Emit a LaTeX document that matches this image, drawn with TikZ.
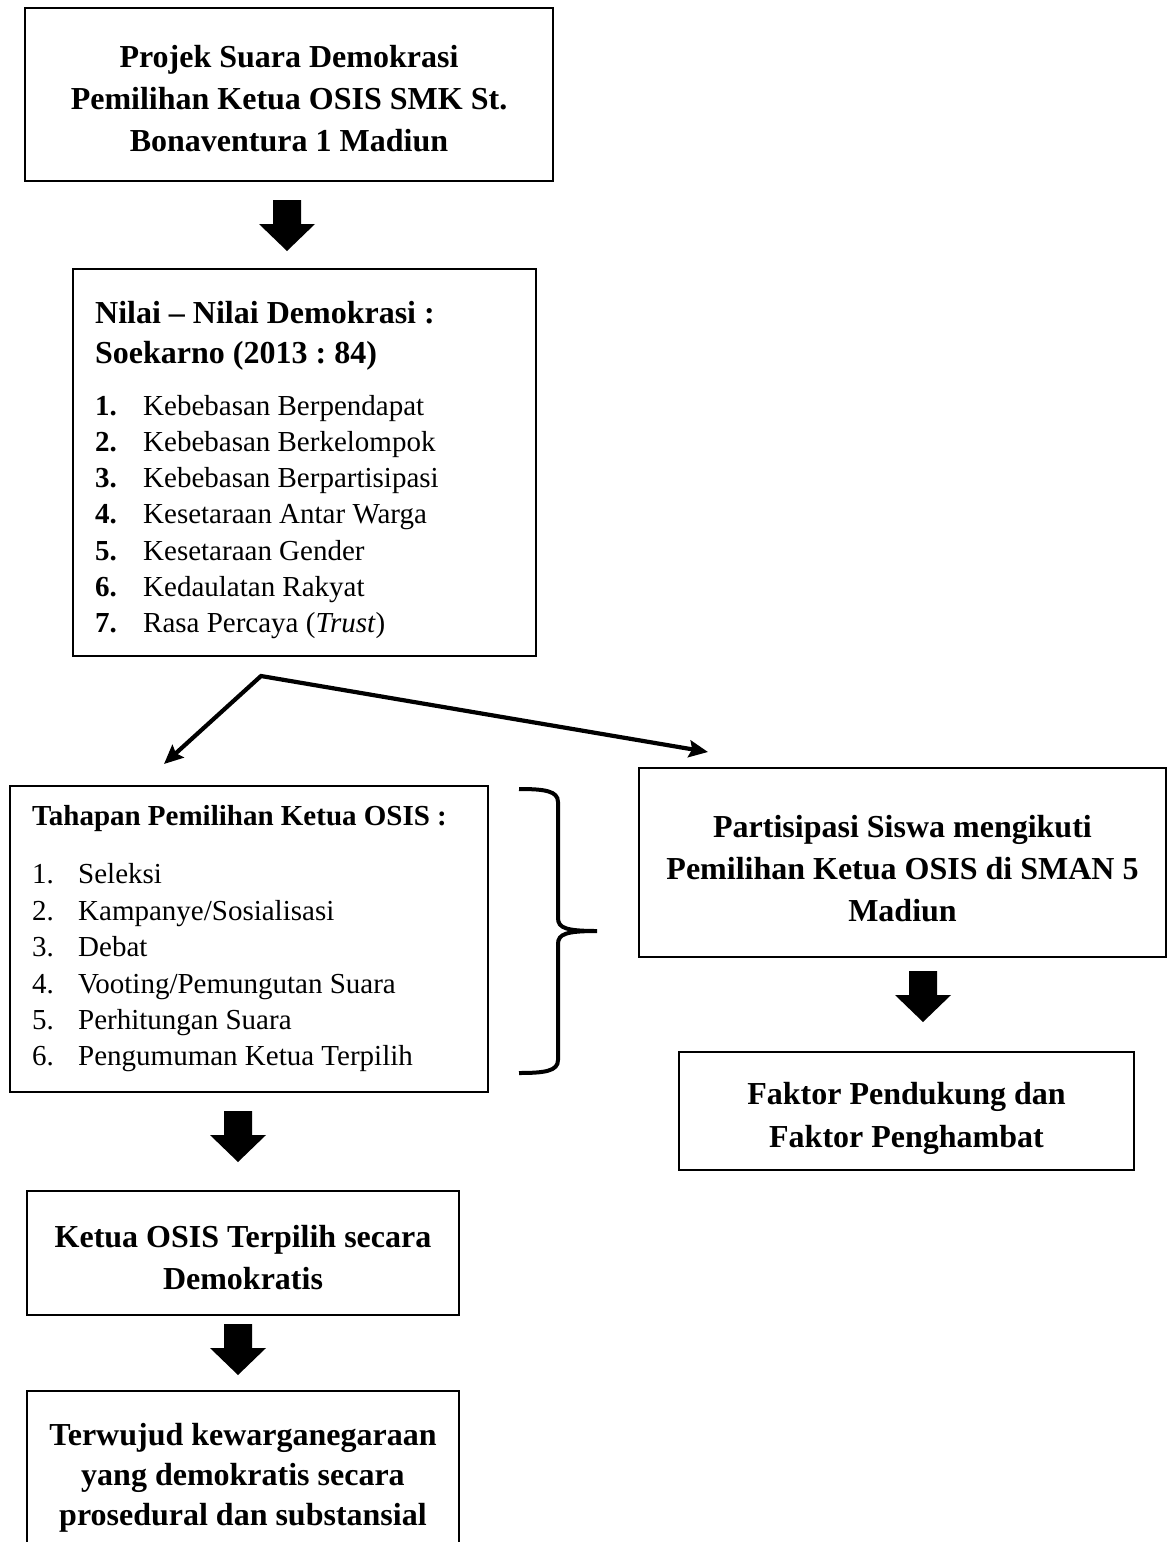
\documentclass[tikz,border=0pt]{standalone}
\usepackage{fontspec}
\setmainfont{Liberation Serif}
\usetikzlibrary{arrows.meta}
\frenchspacing
\tikzset{
  box/.style={draw, line width=2.5pt, inner sep=0pt},
  boxtext/.style={inner sep=0pt, align=center,
    font=\bfseries\fontsize{32}{42}\selectfont},
  txt/.style={inner sep=0pt, anchor=west, align=left},
  conn/.style={line width=4.2pt, line join=miter,
    {Stealth[length=19pt,width=17pt,inset=3pt]}-{Stealth[length=19pt,width=17pt,inset=3pt]}},
  bracestyle/.style={line width=4pt},
  blockarrow/.pic={\fill (-14,0) -- (14,0) -- (14,24) -- (28,24) -- (0,51) -- (-28,24) -- (-14,24) -- cycle;}
}
\begin{document}
\begin{tikzpicture}[x=1pt,y=-1pt]
\useasboundingbox (0,0) rectangle (1171,1542);
\clip (0,0) rectangle (1171,1542);
\fill[white] (0,0) rectangle (1171,1542);

% top box
\node[box, minimum width=528pt, minimum height=173pt] (b1) at (289,94.5) {};
\node[boxtext] (t1) at ([yshift=-4pt]b1.center)
  {Projek Suara Demokrasi\\Pemilihan Ketua OSIS SMK St.\\Bonaventura 1 Madiun};
\pic at (287,200) {blockarrow};

% values box
\node[box, minimum width=463pt, minimum height=387pt] (b2) at (304.5,462.5) {};
\node[txt, font=\bfseries\fontsize{32}{40}\selectfont] (h2) at (95,336)
  {Nilai – Nilai Demokrasi :\\Soekarno (2013 : 84)};
\node[txt, font=\fontsize{29}{36.2}\selectfont] (l2) at (95,517)
  {\makebox[48pt][l]{\textbf{1.}}Kebebasan Berpendapat\\
   \makebox[48pt][l]{\textbf{2.}}Kebebasan Berkelompok\\
   \makebox[48pt][l]{\textbf{3.}}Kebebasan Berpartisipasi\\
   \makebox[48pt][l]{\textbf{4.}}Kesetaraan Antar Warga\\
   \makebox[48pt][l]{\textbf{5.}}Kesetaraan Gender\\
   \makebox[48pt][l]{\textbf{6.}}Kedaulatan Rakyat\\
   \makebox[48pt][l]{\textbf{7.}}Rasa Percaya (\textit{Trust})};

% split connector
\coordinate (apex) at (261,676);
\coordinate (tipL) at (164,764);
\coordinate (tipR) at (708,752);
\draw[conn] (tipL) -- (apex) -- (tipR);

% stages box
\node[box, minimum width=478pt, minimum height=306pt] (b3) at (249,939) {};
\node[txt, font=\bfseries\fontsize{29}{36}\selectfont] (h3) at (32,819)
  {Tahapan Pemilihan Ketua OSIS :};
\node[txt, font=\fontsize{29}{36.4}\selectfont] (l3) at (32,968)
  {\makebox[46pt][l]{1.}Seleksi\\
   \makebox[46pt][l]{2.}Kampanye/Sosialisasi\\
   \makebox[46pt][l]{3.}Debat\\
   \makebox[46pt][l]{4.}Vooting/Pemungutan Suara\\
   \makebox[46pt][l]{5.}Perhitungan Suara\\
   \makebox[46pt][l]{6.}Pengumuman Ketua Terpilih};

% brace
\draw[bracestyle] (519,789) .. controls (545,789) and (558,791) .. (558,802)
  -- (558,918) .. controls (558,928) and (566,931) .. (597,931)
  .. controls (566,931) and (558,934) .. (558,944)
  -- (558,1060) .. controls (558,1071) and (545,1073) .. (519,1073);

% right column
\node[box, minimum width=527pt, minimum height=189pt] (b4) at (902.5,862.5) {};
\node[boxtext] (t4) at ([yshift=-6pt]b4.center)
  {Partisipasi Siswa mengikuti\\Pemilihan Ketua OSIS di SMAN 5\\Madiun};
\pic at (923,971) {blockarrow};
\node[box, minimum width=455pt, minimum height=118pt] (b5) at (906.5,1111) {};
\node[boxtext, font=\bfseries\fontsize{32}{43}\selectfont] (t5) at ([yshift=-7pt]b5.center)
  {Faktor Pendukung dan\\Faktor Penghambat};

% bottom left column
\pic at (238,1111) {blockarrow};
\node[box, minimum width=432pt, minimum height=124pt] (b6) at (243,1253) {};
\node[boxtext] (t6) at ([yshift=-5pt]b6.center)
  {Ketua OSIS Terpilih secara\\Demokratis};
\pic at (238,1324) {blockarrow};
\node[box, minimum width=432pt, minimum height=166pt] (b7) at (243,1474) {};
\node[boxtext, font=\bfseries\fontsize{32}{40}\selectfont] (t7) at ([yshift=-4pt]b7.center)
  {Terwujud kewarganegaraan\\yang demokratis secara\\prosedural dan substansial};
\end{tikzpicture}
\end{document}
